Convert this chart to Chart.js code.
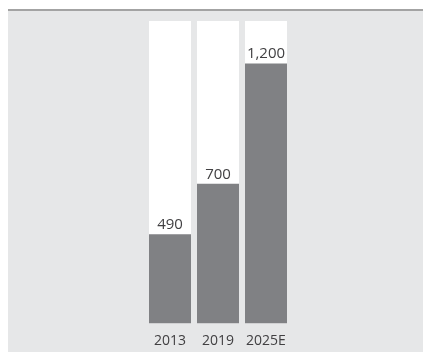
<!DOCTYPE html>
<html>
<head>
<meta charset="utf-8">
<script src="https://cdn.jsdelivr.net/npm/chart.js@4"></script>
<style>
  html, body { margin: 0; padding: 0; background: #fff; }
  body { width: 423px; height: 352px; position: relative; overflow: hidden; }
  .panel {
    position: absolute; left: 8px; top: 9px; right: 0; bottom: 0;
    background: #e6e7e8; border-top: 2px solid #a3a3a3;
  }
  #chart { position: absolute; left: 0; top: 0; }
</style>
</head>
<body>
<div class="panel"></div>
<canvas id="chart" width="423" height="358"></canvas>
<script>
// ========== DATA ==========
const years = ["2013", "2019", "2025E"];
const values = [490, 700, 1200];

const textColor = "#414042";
const fontFamily = "'Open Sans', 'Noto Sans', sans-serif";

// white column behind each bar, full height of chart area
const columnBg = {
  id: "columnBg",
  beforeDatasetsDraw(chart) {
    const { ctx, chartArea } = chart;
    const meta = chart.getDatasetMeta(0);
    ctx.save();
    ctx.fillStyle = "#ffffff";
    meta.data.forEach(bar => {
      ctx.fillRect(bar.x - bar.width / 2, chartArea.top, bar.width, chartArea.bottom - chartArea.top);
    });
    ctx.restore();
  }
};

// value label above each bar
const valueLabels = {
  id: "valueLabels",
  afterDatasetsDraw(chart) {
    const { ctx } = chart;
    const meta = chart.getDatasetMeta(0);
    ctx.save();
    ctx.fillStyle = textColor;
    ctx.font = "15px " + fontFamily;
    ctx.textAlign = "center";
    ctx.textBaseline = "bottom";
    meta.data.forEach((bar, i) => {
      ctx.fillText(values[i].toLocaleString("en-US"), bar.x, bar.y - 2);
    });
    ctx.restore();
  }
};

new Chart(document.getElementById("chart").getContext("2d"), {
  type: "bar",
  data: {
    labels: years,
    datasets: [{
      data: values,
      backgroundColor: "#808184",
      borderWidth: 0,
      categoryPercentage: 1,
      barPercentage: 0.875
    }]
  },
  options: {
    responsive: false,
    animation: false,
    layout: { padding: { left: 146, right: 133, top: 21, bottom: 0 } },
    plugins: { legend: { display: false }, tooltip: { enabled: false } },
    scales: {
      x: {
        grid: { display: false, drawTicks: false },
        border: { display: false },
        ticks: { color: textColor, font: { family: fontFamily, size: 14 }, padding: 9 }
      },
      y: { display: false, min: 120, max: 1377 }
    }
  },
  plugins: [columnBg, valueLabels]
});
</script>
</body>
</html>
